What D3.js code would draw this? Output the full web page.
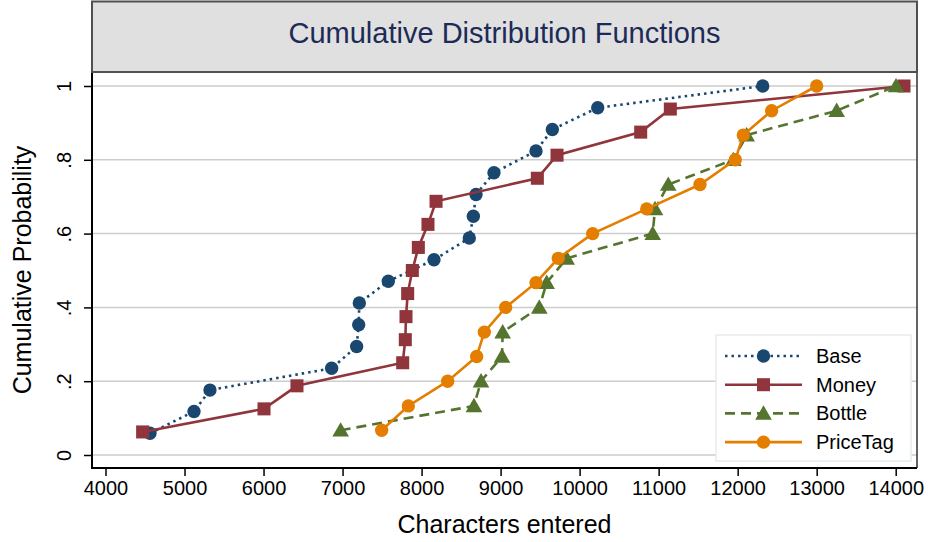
<!DOCTYPE html>
<html>
<head>
<meta charset="utf-8">
<script src="https://cdn.jsdelivr.net/npm/d3@7"></script>
<style>
  body { margin: 0; background: #fff; }
  text { font-family: 'Liberation Sans', Arial, sans-serif; }
</style>
</head>
<body>
<div id="chart"></div>
<script>
// chart values
const seriesNames = ['Base', 'Money', 'Bottle', 'PriceTag']

const baseX = [4563, 5120, 5322, 6862, 7178, 7204, 7212, 7579, 8157, 8604, 8655, 8689, 8916, 9448, 9655, 10229, 12317]
const baseP = [0.059, 0.118, 0.176, 0.235, 0.294, 0.353, 0.412, 0.471, 0.529, 0.588, 0.647, 0.706, 0.765, 0.824, 0.882, 0.941, 1]

const moneyX = [4470, 6006, 6423, 7761, 7794, 7803, 7824, 7883, 7959, 8081, 8183, 9465, 9714, 10773, 11148, 14105]
const moneyP = [0.0625, 0.125, 0.1875, 0.25, 0.3125, 0.375, 0.4375, 0.5, 0.5625, 0.625, 0.6875, 0.75, 0.8125, 0.875, 0.9375, 1]

const bottleX = [6976, 8663, 8752, 9018, 9026, 9490, 9583, 9836, 10925, 10954, 11122, 11945, 12114, 13253, 14004]
const bottleP = [0.067, 0.133, 0.2, 0.267, 0.333, 0.4, 0.467, 0.533, 0.6, 0.667, 0.733, 0.8, 0.867, 0.933, 1]

const priceX = [7495, 7832, 8330, 8697, 8794, 9064, 9448, 9730, 10165, 10849, 11523, 11970, 12071, 12430, 13000]
const priceP = [0.067, 0.133, 0.2, 0.267, 0.333, 0.4, 0.467, 0.533, 0.6, 0.667, 0.733, 0.8, 0.867, 0.933, 1]

const xTicks = [4000, 5000, 6000, 7000, 8000, 9000, 10000, 11000, 12000, 13000, 14000]
const yTicks = [0, 0.2, 0.4, 0.6, 0.8, 1]
const yTickLabels = ['0', '.2', '.4', '.6', '.8', '1']

const margin = { top: 72, right: 11, bottom: 74, left: 92 }
const width = 928 - margin.left - margin.right
const height = 542 - margin.top - margin.bottom

const root = d3
  .select('#chart')
  .append('svg')
  .attr('width', 928)
  .attr('height', 542)

const svg = root
  .append('g')
  .attr('transform', 'translate(' + margin.left + ',' + margin.top + ')')

const xPositionScale = d3.scaleLinear().domain([4000, 14000]).range([13.5, 803.7])
const yPositionScale = d3.scaleLinear().domain([0, 1]).range([383, 14])

// title box
root.append('rect')
  .attr('x', margin.left)
  .attr('y', 1.5)
  .attr('width', width)
  .attr('height', margin.top - 1.5)
  .attr('fill', '#e0e0e0')
  .attr('stroke', '#505050')
  .attr('stroke-width', 2)

root.append('text')
  .text('Cumulative Distribution Functions')
  .attr('x', margin.left + width / 2)
  .attr('y', 43)
  .attr('text-anchor', 'middle')
  .attr('font-size', '29px')
  .attr('fill', '#1c2b57')

// grid lines
svg.selectAll('.grid')
  .data(yTicks)
  .enter()
  .append('line')
  .attr('class', 'grid')
  .attr('x1', 0)
  .attr('x2', width)
  .attr('y1', d => yPositionScale(d))
  .attr('y2', d => yPositionScale(d))
  .attr('stroke', '#cdcdcd')
  .attr('stroke-width', 1.5)

// plot frame (top and right)
svg.append('path')
  .attr('d', 'M0,0H' + width + 'V' + height)
  .attr('fill', 'none')
  .attr('stroke', '#303030')
  .attr('stroke-width', 1.5)

// axes
const xAxis = d3.axisBottom(xPositionScale)
  .tickValues(xTicks)
  .tickFormat(d3.format('d'))
  .tickSize(8)
  .tickPadding(5)

svg.append('g')
  .attr('class', 'axis x-axis')
  .attr('transform', 'translate(0,' + height + ')')
  .call(xAxis)

const yAxis = d3.axisLeft(yPositionScale)
  .tickValues(yTicks)
  .tickFormat((d, i) => yTickLabels[i])
  .tickSize(8)

svg.append('g')
  .attr('class', 'axis y-axis')
  .call(yAxis)

svg.selectAll('.axis .domain').remove()
svg.selectAll('.axis .tick line').attr('stroke', '#000').attr('stroke-width', 1.5)
svg.selectAll('.x-axis text').attr('font-size', '20px').attr('fill', '#000').attr('font-family', "'Liberation Sans', Arial, sans-serif")
svg.selectAll('.y-axis text')
  .attr('font-size', '20px')
  .attr('fill', '#000')
  .attr('font-family', "'Liberation Sans', Arial, sans-serif")
  .attr('x', null)
  .attr('dy', null)
  .attr('text-anchor', 'middle')
  .attr('transform', 'translate(-21,0) rotate(-90)')

// axis lines (left and bottom)
svg.append('path')
  .attr('d', 'M0,0V' + height + 'H' + width)
  .attr('fill', 'none')
  .attr('stroke', '#000')
  .attr('stroke-width', 2)

// axis titles
root.append('text')
  .text('Characters entered')
  .attr('x', margin.left + width / 2)
  .attr('y', 533)
  .attr('text-anchor', 'middle')
  .attr('font-size', '25px')
  .attr('fill', '#000')

root.append('text')
  .text('Cumulative Probability')
  .attr('transform', 'translate(31,' + (margin.top + height / 2) + ') rotate(-90)')
  .attr('text-anchor', 'middle')
  .attr('font-size', '25px')
  .attr('fill', '#000')

// series
const series = [
  { name: 'Base', xs: baseX, ps: baseP, color: '#1a476f', dash: '2.5,4', cap: 'butt', symbol: d3.symbolCircle, size: 140 },
  { name: 'Money', xs: moneyX, ps: moneyP, color: '#90353b', dash: null, cap: 'butt', symbol: d3.symbolSquare, size: 170 },
  { name: 'Bottle', xs: bottleX, ps: bottleP, color: '#55752f', dash: '10,6', cap: 'butt', symbol: d3.symbolTriangle, size: 120 },
  { name: 'PriceTag', xs: priceX, ps: priceP, color: '#e37e00', dash: null, cap: 'butt', symbol: d3.symbolCircle, size: 140 }
]

const line = d3.line()
  .x(d => xPositionScale(d[0]))
  .y(d => yPositionScale(d[1]))

series.forEach(s => {
  const pts = s.xs.map((x, i) => [x, s.ps[i]])
  svg.append('path')
    .datum(pts)
    .attr('d', line)
    .attr('fill', 'none')
    .attr('stroke', s.color)
    .attr('stroke-width', 2.6)
    .attr('stroke-dasharray', s.dash)

  svg.selectAll('.pt-' + s.name)
    .data(pts)
    .enter()
    .append('path')
    .attr('class', 'pt-' + s.name)
    .attr('d', d3.symbol().type(s.symbol).size(s.size))
    .attr('transform', d => {
      const dy = s.symbol === d3.symbolTriangle ? 1.5 : 0
      return 'translate(' + xPositionScale(d[0]) + ',' + (yPositionScale(d[1]) + dy) + ')'
    })
    .attr('fill', s.color)
})

// legend
const legend = root.append('g').attr('transform', 'translate(716,335)')
legend.append('rect')
  .attr('width', 195)
  .attr('height', 126)
  .attr('fill', '#fff')
  .attr('stroke', '#e6ecef')
  .attr('stroke-width', 1.5)

series.forEach((s, i) => {
  const cy = 21 + i * 28.7
  legend.append('line')
    .attr('x1', 9)
    .attr('x2', 86)
    .attr('y1', cy)
    .attr('y2', cy)
    .attr('stroke', s.color)
    .attr('stroke-width', 2.6)
    .attr('stroke-dasharray', s.dash)
  legend.append('path')
    .attr('d', d3.symbol().type(s.symbol).size(s.size))
    .attr('transform', 'translate(47.5,' + (cy + (s.symbol === d3.symbolTriangle ? 1.5 : 0)) + ')')
    .attr('fill', s.color)
  legend.append('text')
    .text(s.name)
    .attr('x', 100)
    .attr('y', cy + 7)
    .attr('font-size', '20px')
    .attr('fill', '#000')
})
</script>
</body>
</html>
